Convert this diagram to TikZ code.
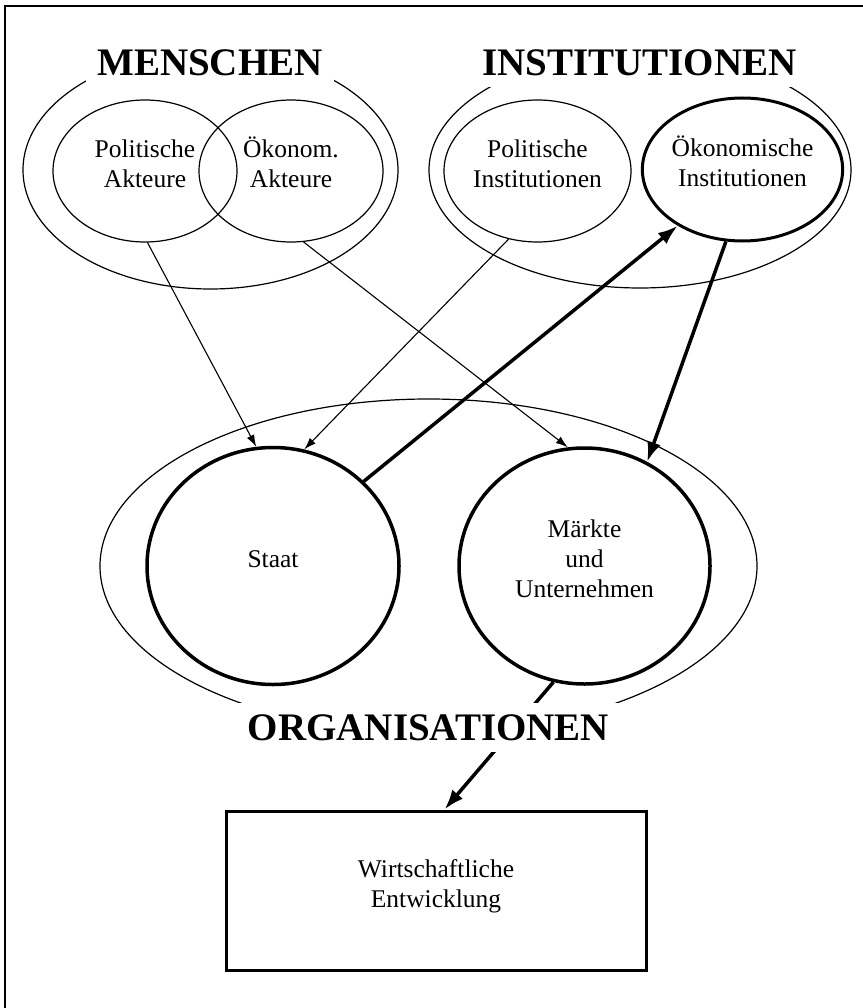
\documentclass[tikz,border=0pt]{standalone}
\usepackage{fontspec}
\setmainfont{Liberation Serif}
\usetikzlibrary{shapes.geometric,arrows.meta}

\begin{document}
\begin{tikzpicture}[x=1pt,y=-1pt,
	txt/.style={font=\fontsize{25.5}{30}\selectfont, align=center, text depth=14pt},
	ell/.style={ellipse, draw, line width=1.2pt, inner sep=0pt},
	heavy/.style={line width=3.5pt},
	head/.style={fill=white, inner sep=11pt, font=\fontsize{39}{47}\selectfont\bfseries},
	link/.style={line width=1.1pt, -{Latex[length=12pt,width=8pt]}},
	mainlink/.style={line width=3.5pt, -{Latex[length=20pt,width=14pt]}}
]
\useasboundingbox (0,0) rectangle (862,1008);
\draw[line width=1.6pt] (5,6) rectangle (880,1030);

\node[ell, minimum width=375pt, minimum height=238pt] (menschen-e) at (210.5,170) {};
\node[ell, minimum width=422pt, minimum height=236pt] (inst-e) at (640,170) {};
\node[ell, minimum width=657pt, minimum height=334pt] (orga-e) at (428.5,566) {};

\node[ell, txt, minimum width=184pt, minimum height=142pt] (polakt) at (145,171) {Politische\\Akteure};
\node[ell, txt, minimum width=184pt, minimum height=142pt] (oekakt) at (291,171) {\smash{Ö}konom.\\Akteure};
\node[ell, txt, minimum width=187pt, minimum height=142pt] (polinst) at (537.5,171) {Politische\\Institutionen};
\node[ell, txt, heavy, line width=3pt, minimum width=189pt, minimum height=143pt] (oekinst) at (742.5,169.5) {\smash{Ö}konomische\\Institutionen};

\node[ell, txt, heavy, minimum width=252pt, minimum height=237pt] (staat) at (273,566) {Staat};
\node[ell, txt, heavy, minimum width=251pt, minimum height=236pt] (maerkte) at (584.5,566) {Märkte\\und\\Unternehmen};

\node[draw, txt, line width=3pt, minimum width=420pt, minimum height=159pt] (entw) at (436,890.5) {Wirtschaftliche\\Entwicklung};

\draw[link] (polakt.-88) -- (staat.98);
\draw[link] (oekakt.-80) -- (maerkte.98);
\draw[link] (polinst.-113) -- (staat.75);
\draw[mainlink] (staat.43) -- (oekinst.-139);
\draw[mainlink] (oekinst.-103) -- (maerkte.59);
\draw[mainlink] (maerkte.-105) -- (entw.84);

\node[head] (menschen) at (210,63) {MENSCHEN};
\node[head] (inst) at (639.5,62.5) {INSTITUTIONEN};
\node[head] (orga) at (428.5,727.5) {ORGANISATIONEN};
\end{tikzpicture}
\end{document}
